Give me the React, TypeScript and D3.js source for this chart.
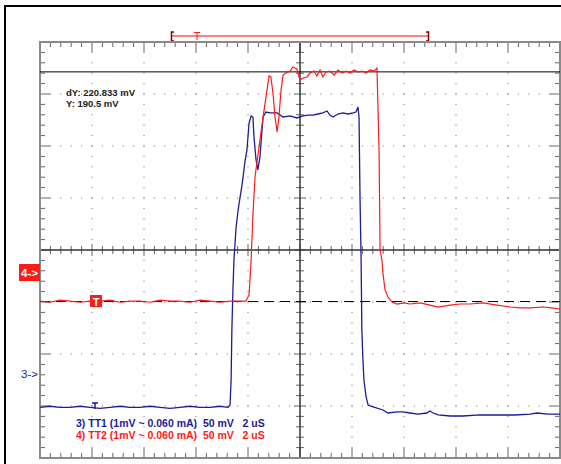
import React from 'react';
import * as d3 from 'd3';

// time in uS, level in mV (relative to each channel's ground marker)
const redTime = [0, 0.38, 0.77, 1.15, 1.54, 1.92, 2.31, 2.69, 3.08, 3.46, 3.85, 4.23, 4.62, 5.0, 5.38, 5.77, 6.15, 6.54, 6.92, 7.31, 7.69, 7.92,
  8.04, 8.12, 8.19, 8.27, 8.46, 8.58, 8.73, 8.81, 8.88, 8.96, 9.04, 9.12, 9.19, 9.27, 9.35, 9.46, 9.62, 9.73, 9.88, 10.0, 10.12, 10.27, 10.38,
  10.54, 10.65, 10.77, 10.88, 11.0, 11.15, 11.31, 11.46, 11.62, 11.77, 11.92, 12.08, 12.23, 12.38, 12.54, 12.69, 12.85, 12.96,
  13.04, 13.08, 13.15, 13.19, 13.27, 13.38, 13.54, 13.73, 14.0, 14.23, 14.62, 15.0, 15.31, 15.77, 16.15, 16.54, 17.04, 17.58, 18.08, 18.46, 18.85, 19.35, 19.69, 20];
const redLevel = [-30, -31, -29, -30, -31, -30, -30, -29, -31, -30, -30, -31, -29, -30, -30, -31, -29, -30, -31, -30, -30, -30,
  -24, 9.6, 52.9, 89.4, 125, 147, 173, 186.5, 185.6, 170, 147, 132.7, 147, 173, 187.5, 189.4, 191.3, 195.2, 193.3, 182.7, 184.6, 185.6, 189.4,
  191.3, 186.5, 192.3, 185.6, 190.4, 191.3, 187.5, 192.3, 189.4, 191.3, 189.4, 192.3, 190.4, 191.3, 189.4, 192.3, 191.3, 194.2,
  115.4, 19.2, 9.6, -2.9, -19.2, -26, -30.8, -32.7, -31.7, -32.7, -31.7, -33.7, -35.6, -33.7, -32.7, -32.7, -31.7, -33.7, -35.6, -36.5, -36.5, -35.6, -36.5, -37.5];

const blueTime = [0, 0.38, 0.77, 1.15, 1.54, 1.92, 2.31, 2.69, 3.08, 3.46, 3.85, 4.23, 4.62, 5.0, 5.38, 5.77, 6.15, 6.54, 6.92, 7.23,
  7.31, 7.35, 7.38, 7.42, 7.46, 7.54, 7.62, 7.69, 7.77, 7.81, 7.88, 7.96, 8.04, 8.12, 8.19, 8.23, 8.31, 8.38, 8.46, 8.54, 8.58, 8.69, 8.85,
  9.12, 9.35, 9.62, 9.88, 10.12, 10.31, 10.5, 10.69, 10.88, 11.04, 11.15, 11.27, 11.46, 11.65, 11.85, 12.04, 12.15, 12.23, 12.27,
  12.31, 12.35, 12.38, 12.42, 12.46, 12.54, 12.62, 12.81, 13.19, 13.38, 13.73, 13.96, 14.23, 14.54, 14.88, 15.0, 15.12, 15.31, 15.77, 16.27, 16.92, 17.58, 18.27, 18.85, 19.12, 19.54, 20];
const blueLevel = [-32, -31, -32, -32, -31, -32, -33, -32, -31, -32, -32, -31, -32, -33, -32, -31, -32, -32, -31, -32,
  -29.8, -5.8, 42.3, 80.8, 109.6, 140.4, 157.7, 169.2, 181.7, 189.4, 203.8, 215.4, 241.3, 248.1, 247.1, 227.9, 205.8, 196.2, 208.7, 234.6, 247.1, 251.9, 251,
  251, 247.1, 248.1, 246.2, 248.1, 249, 249, 250, 251, 252.9, 249, 247.1, 250, 251, 250, 251, 251.9, 256.7, 247.1,
  167.3, 109.6, 42.3, 13.5, -5.8, -22.1, -29.8, -31.7, -34.6, -37.5, -36.5, -36.5, -37.5, -38.5, -37.5, -35.6, -37.5, -39.4, -40.4, -40.4, -39.4, -39.4, -39.4, -38.5, -37.5, -38.5, -38.5];

const legendLines = ['3) TT1 (1mV ~ 0.060 mA)  50 mV   2 uS', '4) TT2 (1mV ~ 0.060 mA)  50 mV   2 uS'];
const cursorText = ['dY: 220.833 mV', 'Y: 190.5 mV'];
const cursorY = 190.5;
const cursorDY = 220.833;

const W = 561, H = 464;
const left = 40, right = 560, top = 42, bottom = 458;
const div = 52;
const redGround = 270, blueGround = 374;
const RED = '#ff1a1a', BLUE = '#1c1c96';

export default function App() {
  const x = d3.scaleLinear().domain([0, 20]).range([left, right]);
  const yRed = d3.scaleLinear().domain([0, 50]).range([redGround, redGround - div]);
  const yBlue = d3.scaleLinear().domain([0, 50]).range([blueGround, blueGround - div]);

  const redLine = d3.line<number>().x((_, i) => x(redTime[i])).y(d => yRed(d));
  const blueLine = d3.line<number>().x((_, i) => x(blueTime[i])).y(d => yBlue(d));

  const minor = d3.range(0, 51).map(k => k * div / 5);
  const minorV = d3.range(0, 41).map(k => k * div / 5);

  const cx = left + 5 * div, cy = top + 4 * div;
  const dots: JSX.Element[] = [];
  for (let i = 1; i < 10; i++) {
    if (i === 5) continue;
    minorV.forEach((m, k) => dots.push(<rect key={`v${i}-${k}`} x={left + i * div - 0.5} y={top + m - 0.5} width={1} height={1} fill="#666" />));
  }
  for (let j = 1; j < 8; j++) {
    if (j === 4) continue;
    minor.forEach((m, k) => dots.push(<rect key={`h${j}-${k}`} x={left + m - 0.5} y={top + j * div - 0.5} width={1} height={1} fill="#666" />));
  }

  const ticks: JSX.Element[] = [];
  minor.forEach((m, k) => {
    const len = k % 5 === 0 ? 10 : 5;
    const xx = left + m;
    ticks.push(<line key={`tt${k}`} x1={xx} x2={xx} y1={top} y2={top + len} />);
    ticks.push(<line key={`tb${k}`} x1={xx} x2={xx} y1={bottom} y2={bottom - len} />);
    const c = k % 5 === 0 ? 6 : 4;
    ticks.push(<line key={`tc${k}`} x1={xx} x2={xx} y1={cy - c} y2={cy + c} />);
  });
  minorV.forEach((m, k) => {
    const len = k % 5 === 0 ? 10 : 5;
    const yy = top + m;
    ticks.push(<line key={`tl${k}`} x1={left} x2={left + len} y1={yy} y2={yy} />);
    ticks.push(<line key={`tr${k}`} x1={right} x2={right - len} y1={yy} y2={yy} />);
    const c = k % 5 === 0 ? 6 : 4;
    ticks.push(<line key={`tm${k}`} x1={cx - c} x2={cx + c} y1={yy} y2={yy} />);
  });

  const yCursor = yRed(cursorY);
  const yCursor2 = yRed(cursorY - cursorDY);

  return (
    <svg width={W} height={H} style={{ position: 'absolute', left: 0, top: 0, background: '#fff' }}
      fontFamily="'Liberation Sans', Arial, sans-serif">
      <rect width={W} height={H} fill="#fff" />
      <path d={`M5,${H} V6 H${W}`} fill="none" stroke="#000" strokeWidth={2} />

      {/* acquisition window bar */}
      <line x1={171} x2={429} y1={36} y2={36} stroke="#ff8080" strokeWidth={2} />
      <path d="M174,32 H171.5 V41 H174" fill="none" stroke="#700" strokeWidth={1.5} />
      <path d="M426,32 H428.5 V41 H426" fill="none" stroke="#700" strokeWidth={1.5} />
      <path d="M194,32.5 H200 M197,32.5 V40" fill="none" stroke={RED} strokeWidth={1} />

      {dots}
      <g stroke="#666" strokeWidth={1}>{ticks}</g>
      <line x1={cx} x2={cx} y1={top} y2={bottom} stroke="#333" strokeWidth={1.5} />
      <line x1={left} x2={right} y1={cy} y2={cy} stroke="#333" strokeWidth={1.5} />
      <rect x={left} y={top} width={right - left} height={bottom - top} fill="none" stroke="#8a8a8a" strokeWidth={2} />

      <line x1={left} x2={right} y1={yCursor} y2={yCursor} stroke="#000" strokeWidth={1} />
      <line x1={left} x2={right} y1={yCursor2} y2={yCursor2} stroke="#000" strokeWidth={1} strokeDasharray="10,6" />

      <path d={blueLine(blueLevel) || ''} fill="none" stroke={BLUE} strokeWidth={1.3} />
      <path d={redLine(redLevel) || ''} fill="none" stroke={RED} strokeWidth={1.2} />

      {/* trigger markers */}
      <rect x={90} y={295} width={12} height={12} fill={RED} />
      <text x={96} y={305.5} fill="#fff" fontSize={11} fontWeight="bold" textAnchor="middle">T</text>
      <path d="M92,403 H98 M95,403 V409" fill="none" stroke={BLUE} strokeWidth={1.5} />

      {/* ground markers */}
      <rect x={19} y={264} width={21} height={17} fill={RED} />
      <text x={29.5} y={277} fill="#fff" fontSize={11.5} fontWeight="bold" textAnchor="middle">4-&gt;</text>
      <text x={21} y={378} fill={BLUE} fontSize={11.5}>3-&gt;</text>

      <g fontSize={9.5} fontWeight="bold" fill="#222">
        {cursorText.map((t, i) => <text key={t} x={66} y={96 + i * 11}>{t}</text>)}
      </g>
      <g fontSize={10.5} fontWeight="bold" style={{ whiteSpace: 'pre' }}>
        {legendLines.map((t, i) => (
          <text key={t} x={76} y={427 + i * 12} fill={i === 0 ? BLUE : RED} xmlSpace="preserve">{t}</text>
        ))}
      </g>
    </svg>
  );
}
